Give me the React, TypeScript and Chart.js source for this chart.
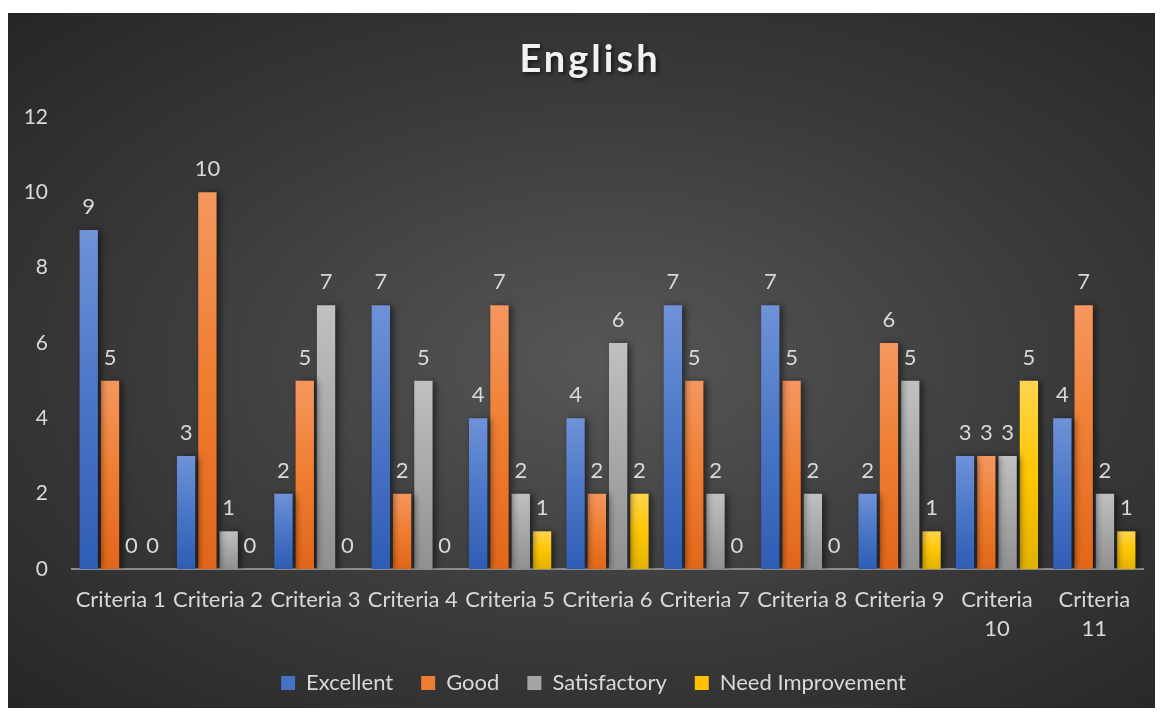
import React, { useEffect, useRef } from 'react';
import { Chart, registerables } from 'chart.js';

Chart.register(...registerables);

const categories: (string | string[])[] = [
  'Criteria 1', 'Criteria 2', 'Criteria 3', 'Criteria 4', 'Criteria 5', 'Criteria 6',
  'Criteria 7', 'Criteria 8', 'Criteria 9', ['Criteria', '10'], ['Criteria', '11'],
];
const seriesNames = ['Excellent', 'Good', 'Satisfactory', 'Need Improvement'];
const excellent = [9, 3, 2, 7, 4, 4, 7, 7, 2, 3, 4];
const good = [5, 10, 5, 2, 7, 2, 5, 5, 6, 3, 7];
const satisfactory = [0, 1, 7, 5, 2, 6, 2, 2, 5, 3, 2];
const needImprovement = [0, 0, 0, 0, 1, 2, 0, 0, 1, 5, 1];
const yMin = 0;
const yMax = 12;
const yStep = 2;
const chartTitle = 'English';

const FONT = 'Lato, "Open Sans", sans-serif';
const TEXT = '#d9d9d9';

const palette = [
  { top: '#6f92d8', mid: '#4a76c6', bottom: '#2f5db4', solid: '#4472c4' },
  { top: '#f5975f', mid: '#ef7d30', bottom: '#e2661a', solid: '#ed7d31' },
  { top: '#c0c0c0', mid: '#a8a8a8', bottom: '#909090', solid: '#a5a5a5' },
  { top: '#ffd54f', mid: '#ffc600', bottom: '#e2b200', solid: '#ffc000' },
];

const barFill = (i: number) => (ctx: any) => {
  const chart = ctx.chart;
  const y = chart.scales && chart.scales.y;
  const p = palette[i];
  if (ctx.type !== 'data' || !y) return p.solid;
  const v = ctx.raw as number;
  const t = y.getPixelForValue(v);
  const b = y.getPixelForValue(0);
  if (!isFinite(t) || !isFinite(b) || b - t < 1) return p.solid;
  const g = chart.ctx.createLinearGradient(0, t, 0, b);
  g.addColorStop(0, p.top);
  g.addColorStop(0.5, p.mid);
  g.addColorStop(1, p.bottom);
  return g;
};

const barDecor = {
  id: 'barDecor',
  afterLayout(chart: any) {
    if (chart.legend) {
      chart.legend.left += 18;
      chart.legend.right += 18;
    }
  },
  beforeDatasetsDraw(chart: any) {
    const c = chart.ctx;
    c.save();
    c.shadowColor = 'rgba(0,0,0,0.55)';
    c.shadowBlur = 7;
    c.shadowOffsetX = 3;
    c.shadowOffsetY = 1;
  },
  afterDatasetsDraw(chart: any) {
    const c = chart.ctx;
    c.restore();
    c.save();
    c.font = `22px ${FONT}`;
    c.fillStyle = TEXT;
    c.textAlign = 'center';
    c.textBaseline = 'alphabetic';
    chart.data.datasets.forEach((ds: any, i: number) => {
      const meta = chart.getDatasetMeta(i);
      meta.data.forEach((el: any, j: number) => {
        c.fillText(String(ds.data[j]), el.x, el.y - 16);
      });
    });
    c.restore();
  },
};

const titleDraw = {
  id: 'titleDraw',
  afterDraw(chart: any) {
    const c = chart.ctx;
    c.save();
    c.font = `bold 38px ${FONT}`;
    (c as any).letterSpacing = '3px';
    c.fillStyle = '#f2f2f2';
    c.shadowColor = 'rgba(0,0,0,0.6)';
    c.shadowBlur = 4;
    c.shadowOffsetX = 2;
    c.shadowOffsetY = 2;
    c.textAlign = 'center';
    c.textBaseline = 'middle';
    c.fillText(chartTitle, 582, 47);
    c.restore();
  },
};

export default function App() {
  const ref = useRef<HTMLCanvasElement | null>(null);
  useEffect(() => {
    if (!ref.current) return;
    const series = [excellent, good, satisfactory, needImprovement];
    const chart = new Chart(ref.current, {
      type: 'bar',
      data: {
        labels: categories,
        datasets: series.map((d, i) => ({
          label: seriesNames[i],
          data: d,
          backgroundColor: barFill(i),
          borderWidth: 0,
          categoryPercentage: 0.875,
          barPercentage: 0.86,
        })),
      },
      options: {
        animation: false,
        responsive: false,
        layout: { padding: { top: 104, right: 20, left: 0, bottom: 9 } },
        plugins: {
          title: { display: false },
          tooltip: { enabled: false },
          legend: {
            position: 'bottom',
            labels: {
              color: TEXT,
              font: { family: FONT, size: 22 },
              boxWidth: 14,
              boxHeight: 14,
              padding: 28,
              generateLabels: () =>
                seriesNames.map((n, i) => ({
                  text: n,
                  fillStyle: palette[i].solid,
                  strokeStyle: palette[i].solid,
                  lineWidth: 0,
                  hidden: false,
                  datasetIndex: i,
                  fontColor: TEXT,
                })),
            },
          },
        },
        scales: {
          x: {
            grid: { display: false, drawTicks: false },
            border: { display: true, color: '#8c8c8c', width: 2 },
            ticks: {
              color: TEXT,
              font: { family: FONT, size: 22, lineHeight: 1.32 },
              padding: 16,
              maxRotation: 0,
              autoSkip: false,
            },
            afterFit: (s: any) => { s.height = 75; },
          },
          y: {
            min: yMin,
            max: yMax,
            grid: { display: false, drawTicks: false },
            border: { display: false },
            ticks: {
              stepSize: yStep,
              color: TEXT,
              font: { family: FONT, size: 21 },
              padding: 24,
            },
            afterFit: (s: any) => { s.width = 64; },
          },
        },
      },
      plugins: [barDecor, titleDraw],
    });
    return () => chart.destroy();
  }, []);

  return (
    <div
      style={{
        position: 'relative',
        top: 5,
        width: 1155,
        height: 700,
        background: 'radial-gradient(ellipse at 52% 50%, #575757 0%, #3a3a3a 55%, #262626 100%)',
      }}
    >
      <canvas ref={ref} width={1155} height={700} style={{ display: 'block' }} />
    </div>
  );
}
